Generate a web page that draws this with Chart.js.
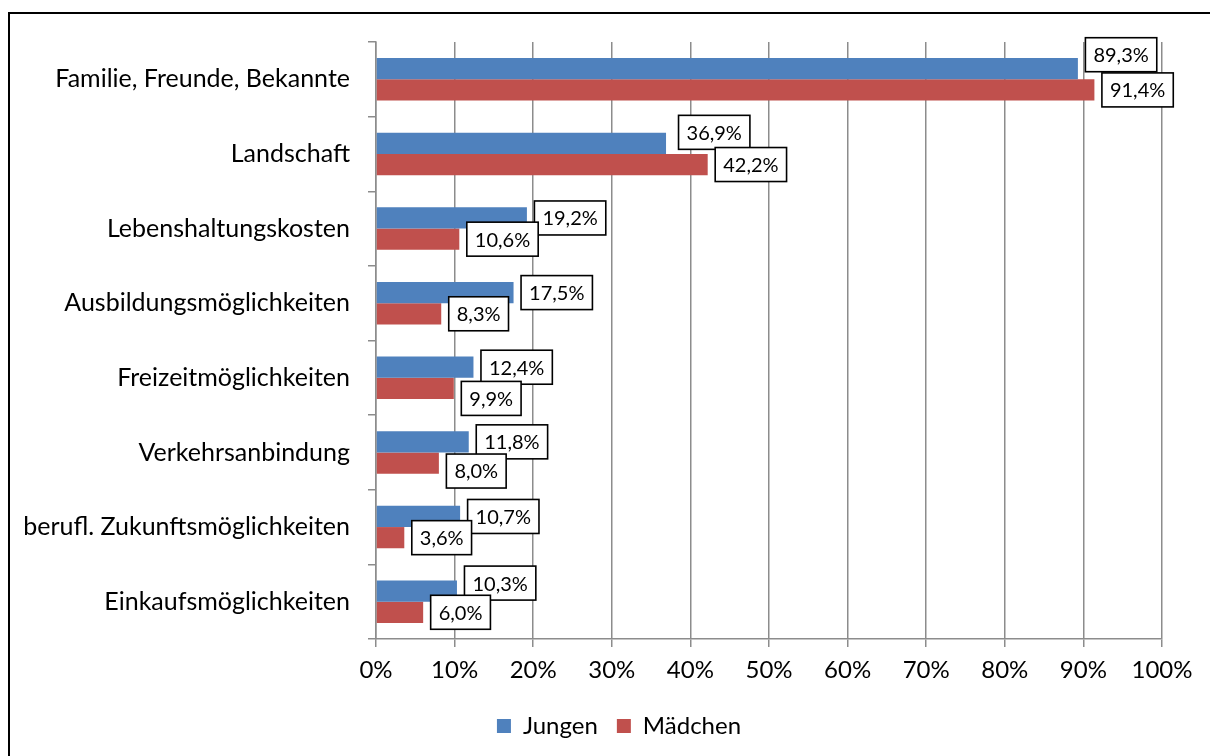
<!DOCTYPE html>
<html>
<head>
<meta charset="utf-8">
<script src="https://cdn.jsdelivr.net/npm/chart.js@4.4.0/dist/chart.umd.min.js"></script>
<style>
    html, body { margin: 0; padding: 0; background: #fff; overflow: hidden; }
    #frame { position: absolute; left: 8px; top: 12px; width: 1400px; height: 1000px; border: 2px solid #000; box-sizing: border-box; }
    #wrap { position: absolute; left: 0; top: 0; width: 1210px; height: 756px; }
</style>
</head>
<body>
<div id="frame"></div>
<div id="wrap"><canvas id="myChart"></canvas></div>
<script>
const categories = [
    'Familie, Freunde, Bekannte',
    'Landschaft',
    'Lebenshaltungskosten',
    'Ausbildungsmöglichkeiten',
    'Freizeitmöglichkeiten',
    'Verkehrsanbindung',
    'berufl. Zukunftsmöglichkeiten',
    'Einkaufsmöglichkeiten'
];
const jungen = [89.3, 36.9, 19.2, 17.5, 12.4, 11.8, 10.7, 10.3];
const maedchen = [91.4, 42.2, 10.6, 8.3, 9.9, 8.0, 3.6, 6.0];
const xTickValues = [0, 10, 20, 30, 40, 50, 60, 70, 80, 90, 100];

// some label boxes were moved by hand in the original
const jungenLabelLift = [14, 11, 0, 0, 0, 0, 0, 8];
const jungenLabelNudge = [0, 5, 0, 0, 0, 0, 0, 0];
const maedchenLabelDrop = [0, 0, 0, 0, 10, 8, 0, 0];

const fontFamily = 'Lato, "Open Sans", sans-serif';
const categoryFont = { family: fontFamily, size: 25 };
const tickFont = { family: fontFamily, size: 24 };
const labelFontSize = 20;
const gridColor = '#8c8c8c';

const ctx = document.getElementById('myChart');

const labelBoxes = {
    id: 'labelBoxes',
    afterLayout(chart) {
        // legend sits a bit right of centre in the original
        chart.legend.left += 33;
        chart.legend.right += 33;
    },
    afterDatasetsDraw(chart) {
        const c = chart.ctx;
        c.save();
        c.font = labelFontSize + 'px ' + fontFamily;
        c.textAlign = 'center';
        c.textBaseline = 'middle';
        chart.data.datasets.forEach((ds, di) => {
            const meta = chart.getDatasetMeta(di);
            meta.data.forEach((bar, i) => {
                const text = ds.data[i].toFixed(1).replace('.', ',') + '%';
                const w = c.measureText(text).width + 16;
                const h = 34;
                let x = bar.x + 7.5;
                let y = bar.y - h / 2;
                if (di === 0) {
                    y -= jungenLabelLift[i];
                    x += jungenLabelNudge[i];
                } else {
                    y += maedchenLabelDrop[i];
                }
                c.fillStyle = '#fff';
                c.fillRect(x, y, w, h);
                c.strokeStyle = '#000';
                c.lineWidth = 1.6;
                c.strokeRect(x, y, w, h);
                c.fillStyle = '#000';
                c.fillText(text, x + w / 2, y + h / 2 + 1);
            });
        });
        c.restore();
    }
};

var myChart = new Chart(ctx, {
    type: 'bar',
    data: {
        labels: categories,
        datasets: [
            {
                label: 'Jungen',
                data: jungen,
                backgroundColor: '#4F81BD',
                categoryPercentage: 0.568,
                barPercentage: 1
            },
            {
                label: 'Mädchen',
                data: maedchen,
                backgroundColor: '#C0504D',
                categoryPercentage: 0.568,
                barPercentage: 1
            }
        ]
    },
    options: {
        indexAxis: 'y',
        responsive: true,
        maintainAspectRatio: false,
        animation: false,
        layout: {
            padding: { left: 10, top: 42, right: 48, bottom: 8 }
        },
        scales: {
            x: {
                min: 0,
                max: 100,
                afterBuildTicks: (scale) => {
                    scale.ticks = xTickValues.map(v => ({ value: v }));
                },
                ticks: {
                    color: '#000',
                    font: tickFont,
                    padding: 9,
                    maxRotation: 0,
                    callback: (v) => v + '%'
                },
                grid: { color: gridColor, lineWidth: 1.5, tickLength: 8 },
                border: { color: gridColor, width: 1.5 },
                afterFit: (scale) => { scale.height = 56; }
            },
            y: {
                grid: { drawOnChartArea: false, offset: true, tickLength: 8, color: gridColor, lineWidth: 1.5 },
                border: { color: gridColor, width: 1.5 },
                ticks: { color: '#000', font: categoryFont, padding: 18 },
                afterFit: (scale) => { scale.width = 366; }
            }
        },
        plugins: {
            legend: {
                position: 'bottom',
                labels: {
                    boxWidth: 14,
                    boxHeight: 14,
                    color: '#000',
                    font: tickFont,
                    padding: 19
                }
            },
            tooltip: { enabled: false }
        }
    },
    plugins: [labelBoxes]
});
</script>
</body>
</html>
